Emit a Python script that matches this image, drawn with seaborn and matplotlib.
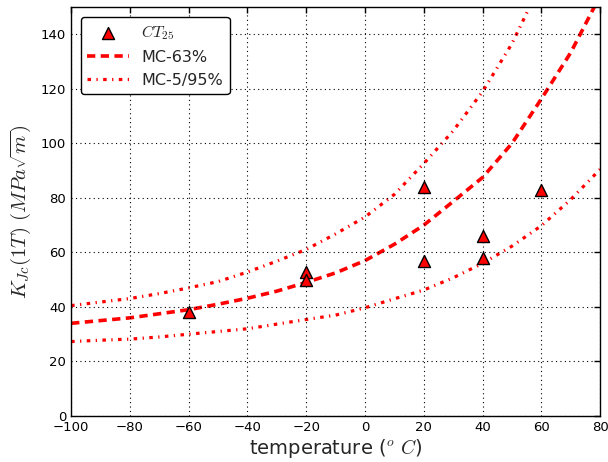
import matplotlib
matplotlib.use("Agg")
import matplotlib.pyplot as plt
import seaborn as sns
import numpy as np

# Measured fracture toughness (CT25 specimens)
ct_temp = [-60, -20, -20, 20, 20, 40, 40, 60]
ct_kjc = [38, 53, 50, 84, 57, 66, 58, 83]

# Master curve 63%
mc63_temp = [-100, -90, -80, -70, -60, -50, -40, -30, -20, -10, 0, 10, 20, 30, 40, 50, 60, 70, 78]
mc63_kjc = [34, 35, 36, 37.5, 39, 41, 43.2, 45.8, 49, 52.5, 57, 63, 70, 78.7, 87.5, 100, 116.3, 133.3, 150]

# Master curve 95% bound
mc95_temp = [-100, -90, -80, -70, -60, -50, -40, -30, -20, -10, 0, 10, 20, 30, 40, 50, 56]
mc95_kjc = [40.5, 41.8, 43.1, 44.9, 47, 49.3, 52.8, 56.8, 61.1, 66.8, 73, 81.3, 92.6, 104.6, 119, 136.6, 150]

# Master curve 5% bound
mc5_temp = [-100, -90, -80, -70, -60, -50, -40, -30, -20, -10, 0, 10, 20, 30, 40, 50, 60, 70, 80]
mc5_kjc = [27.3, 27.8, 28.2, 29, 30, 31, 32, 33.7, 35.4, 37, 39.7, 43, 46.2, 50.7, 56, 62.3, 69.8, 79.4, 90.5]

xticks = [-100, -80, -60, -40, -20, 0, 20, 40, 60, 80]
yticks = [0, 20, 40, 60, 80, 100, 120, 140]

sns.set_style("white")
plt.rcParams.update({
    "font.family": ["DejaVu Sans"],
    "mathtext.fontset": "cm",
    "xtick.direction": "in",
    "ytick.direction": "in",
    "xtick.top": True,
    "ytick.right": True,
    "xtick.major.size": 4,
    "ytick.major.size": 4,
    "xtick.color": "black",
    "ytick.color": "black",
    "axes.edgecolor": "black",
    "axes.linewidth": 1.0,
})

fig = plt.figure(figsize=(6.08, 4.62), dpi=100)
ax = fig.add_axes([0.117, 0.0996, 0.87, 0.885])

sns.scatterplot(x=ct_temp, y=ct_kjc, marker="^", s=75, color="red",
                edgecolor="black", linewidth=1.0, label="$CT_{25}$", ax=ax, zorder=5)
sns.lineplot(x=mc63_temp, y=mc63_kjc, color="red", lw=2.6,
             linestyle=(0, (2.3, 1.5)), label="MC-63%", ax=ax)
sns.lineplot(x=mc95_temp, y=mc95_kjc, color="red", lw=2.3,
             linestyle=(0, (1.1, 1.7, 0.4, 1.7)), label="MC-5/95%", ax=ax)
sns.lineplot(x=mc5_temp, y=mc5_kjc, color="red", lw=2.3,
             linestyle=(0, (1.1, 1.7, 0.4, 1.7)), ax=ax)

ax.set_xlim(-100, 80)
ax.set_ylim(0, 150)
ax.set_xticks(xticks)
ax.set_yticks(yticks)
ax.tick_params(labelsize=9.5, width=1)
ax.grid(True, color="black", linestyle=(0, (1, 3)), linewidth=0.8)
ax.set_axisbelow(False)

ax.set_xlabel(r"temperature ($^o\ C$)", fontsize=14, labelpad=2)
ax.set_ylabel(r"$K_{Jc}(1T)\ (MPa\sqrt{m})$", fontsize=15, labelpad=6)

leg = ax.legend(loc="upper left", fontsize=11.5, scatterpoints=1, fancybox=True,
                framealpha=1, edgecolor="black", handlelength=2.6,
                borderaxespad=0.6)
leg.get_frame().set_linewidth(1.0)

fig.savefig("out.png", dpi=100)
